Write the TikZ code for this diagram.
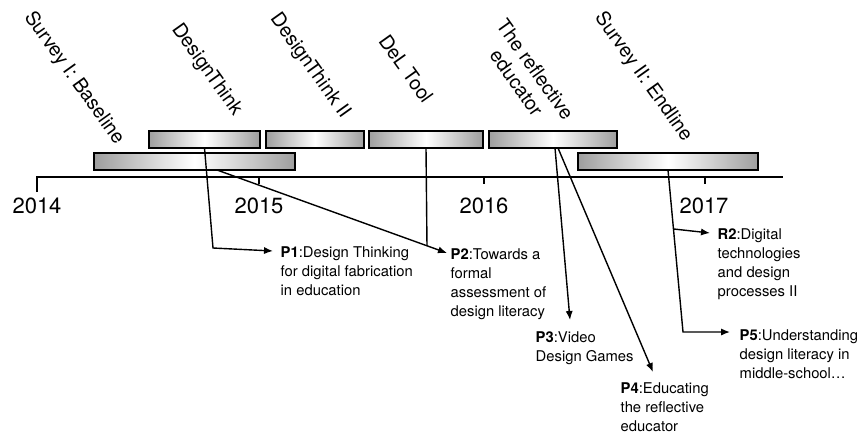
\documentclass[tikz,border=0pt]{standalone}
\usepackage{fontspec}
\setmainfont{TeX Gyre Heros}
\usetikzlibrary{arrows.meta}

\begin{document}
\begin{tikzpicture}[x=0.5pt, y=-0.5pt, line width=0.7pt,
	>={Latex[length=4.5pt, width=3.6pt]},
	bar/.style={draw, line width=0.8pt, inner sep=0pt, outer sep=0pt, minimum height=8.5pt, left color=black!38, right color=black!38, middle color=white},
	proj/.style={rotate=-54.5, anchor=east, inner sep=0pt, font=\fontsize{9.8}{11.5}\selectfont},
	year/.style={inner sep=0pt, font=\fontsize{11}{12}\selectfont},
	paper/.style={anchor=north west, align=left, inner sep=0pt, font=\fontsize{7.4}{9.5}\selectfont}]
			\useasboundingbox (0,0) rectangle (861,434);
			% time axis
			\draw (37,192) -- (37,177) -- (783,177);
			\foreach \x in {259,484,705}
				\draw (\x,177) -- (\x,184);
			\node[year] (yfourteen) at (37,206) {2014};
			\node[year] (yfifteen) at (259,206) {2015};
			\node[year] (ysixteen) at (484,206) {2016};
			\node[year] (yseventeen) at (704,206) {2017};
			% projects
			\node[bar, minimum width=55.5pt] (dt) at (204.5,139.5) {};
			\node[bar, minimum width=49pt] (dtii) at (315,139.5) {};
			\node[bar, minimum width=57pt] (del) at (426,139.5) {};
			\node[bar, minimum width=64pt] (refl) at (553,139.5) {};
			\node[bar, minimum width=100.5pt] (sone) at (194.5,161.5) {};
			\node[bar, minimum width=90pt] (stwo) at (668,161.5) {};
			\node[proj] (lsone) at (120,143) {Survey I: Baseline};
			\node[proj] (ldt) at (238,114) {DesignThink};
			\node[proj] (ldtii) at (346,117) {DesignThink II};
			\node[proj] (ldel) at (429,101) {DeL Tool};
			\node[proj, anchor=center, align=center] (lrefl) at (526,76) {The reflective\\educator};
			\node[proj] (lstwo) at (688,140) {Survey II: Endline};
			% papers
			\node[paper] (pone) at (280,246) {\textbf{P1}:Design Thinking\\for digital fabrication\\in education};
			\node[paper] (ptwo) at (450,248) {\textbf{P2}:Towards a\\formal\\assessment of\\design literacy};
			\node[paper] (pthree) at (535,331) {\textbf{P3}:Video\\Design Games};
			\node[paper] (pfour) at (620,382) {\textbf{P4}:Educating\\the reflective\\educator};
			\node[paper] (rtwo) at (717,228) {\textbf{R2}:Digital\\technologies\\and design\\processes II};
			\node[paper] (pfive) at (739,329) {\textbf{P5}:Understanding\\design literacy in\\middle-school\ldots};
			% links
			\draw[->] (dt.south) -- (213,248) -- ([shift={(-3.5pt,-2.5pt)}]pone.north west);
			\draw[->] ([xshift=11.25pt]sone.south) -- coordinate[pos=0.913] (join) ([shift={(-1.5pt,-2.5pt)}]ptwo.north west);
			\draw (del.south) -- (join);
			\draw[->] ([xshift=1pt]refl.south) -- ([shift={(17.5pt,5.5pt)}]pthree.north west);
			\draw[->] ([xshift=2.5pt]refl.south) -- ([shift={(16.5pt,5pt)}]pfour.north west);
			\draw[->] (stwo.south) -- coordinate[pos=0.364] (fork) (683,332) -- ([shift={(-4.5pt,-1.5pt)}]pfive.north west);
			\draw[->] (fork) -- ([shift={(-3.5pt,-2.5pt)}]rtwo.north west);
		\end{tikzpicture}
\end{document}
